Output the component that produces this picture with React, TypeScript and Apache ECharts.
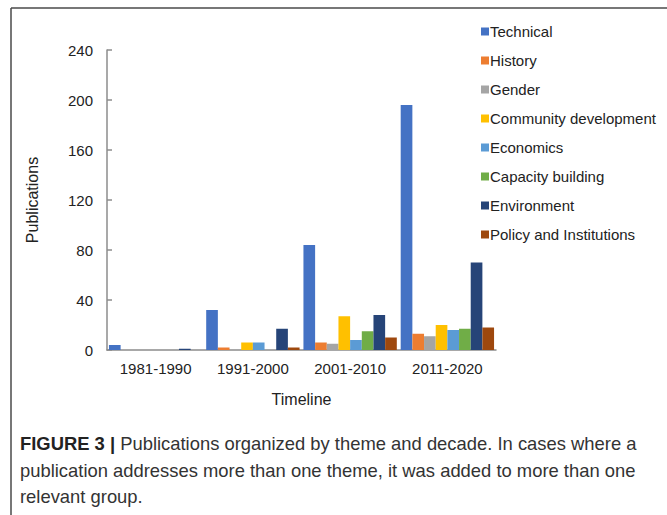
import React, { useEffect, useRef } from "react";
import * as echarts from "echarts";

const categories = ["1981-1990", "1991-2000", "2001-2010", "2011-2020"];
const seriesNames = [
  "Technical",
  "History",
  "Gender",
  "Community development",
  "Economics",
  "Capacity building",
  "Environment",
  "Policy and Institutions",
];
const technical = [4, 32, 84, 196];
const history = [0, 2, 6, 13];
const gender = [0, 0, 5, 11];
const communityDevelopment = [0, 6, 27, 20];
const economics = [0, 6, 8, 16];
const capacityBuilding = [0, 0, 15, 17];
const environment = [1, 17, 28, 70];
const policyInstitutions = [0, 2, 10, 18];
const seriesValues = [
  technical,
  history,
  gender,
  communityDevelopment,
  economics,
  capacityBuilding,
  environment,
  policyInstitutions,
];
const colors = ["#4472C4", "#ED7D31", "#A5A5A5", "#FFC000", "#5B9BD5", "#70AD47", "#264478", "#9E480E"];
const yTicks = [0, 40, 80, 120, 160, 200, 240];
const captionLines = [
  "Publications organized by theme and decade. In cases where a",
  "publication addresses more than one theme, it was added to more than one",
  "relevant group.",
];

export default function App() {
  const ref = useRef<HTMLDivElement>(null);
  useEffect(() => {
    if (!ref.current) return;
    const chart = echarts.init(ref.current, undefined, { renderer: "svg" });
    const font = "'Liberation Sans', Arial, sans-serif";
    chart.setOption({
      animation: false,
      textStyle: { fontFamily: font },
      legend: {
        orient: "vertical",
        left: 476,
        top: 19,
        itemWidth: 8,
        itemHeight: 8,
        itemGap: 14,
        icon: "rect",
        textStyle: { fontSize: 15, color: "#222", fontFamily: font, padding: [0, 0, 0, -4] },
        data: seriesNames,
      },
      grid: { left: 107, right: 171, top: 50, bottom: 165 },
      xAxis: {
        type: "category",
        data: categories,
        axisLine: { lineStyle: { color: "#8c8c8c", width: 1.5 } },
        axisTick: { show: false },
        axisLabel: { fontSize: 15, color: "#222", margin: 11, fontFamily: font },
        name: "Timeline",
        nameLocation: "middle",
        nameGap: 41,
        nameTextStyle: { fontSize: 16, color: "#222", fontFamily: font },
      },
      yAxis: {
        type: "value",
        min: yTicks[0],
        max: yTicks[yTicks.length - 1],
        interval: 40,
        splitLine: { show: false },
        axisLine: { show: true, lineStyle: { color: "#8c8c8c", width: 1.5 } },
        axisTick: { show: true, inside: true, length: 5, lineStyle: { color: "#8c8c8c", width: 1.5 } },
        axisLabel: { fontSize: 15, color: "#222", margin: 14, fontFamily: font },
        name: "Publications",
        nameLocation: "middle",
        nameGap: 67,
        nameTextStyle: { fontSize: 16, color: "#222", fontFamily: font },
      },
      series: seriesNames.map((name, i) => ({
        name,
        type: "bar",
        data: seriesValues[i],
        barGap: "0%",
        barCategoryGap: "4%",
        itemStyle: { color: colors[i] },
      })),
      graphic: [
        { type: "line", shape: { x1: 11, y1: 8, x2: 667, y2: 8 }, style: { stroke: "#4a4a4a", lineWidth: 1.5 } },
        { type: "line", shape: { x1: 11, y1: 8, x2: 11, y2: 515 }, style: { stroke: "#4a4a4a", lineWidth: 1.5 } },
        {
          type: "text",
          left: 20,
          top: 434,
          style: {
            text: "{b|FIGURE 3 |} " + captionLines[0],
            fontSize: 18.4,
            fill: "#333",
            fontFamily: font,
            rich: { b: { fontWeight: "bold", fontSize: 18.4, fill: "#222", fontFamily: font } },
          },
        },
        {
          type: "text",
          left: 20,
          top: 461,
          style: { text: captionLines[1], fontSize: 18.4, fill: "#333", fontFamily: font },
        },
        {
          type: "text",
          left: 20,
          top: 487,
          style: { text: captionLines[2], fontSize: 18.4, fill: "#333", fontFamily: font },
        },
      ],
    });
    return () => chart.dispose();
  }, []);
  return (
    <div
      ref={ref}
      style={{ position: "absolute", left: 0, top: 0, width: 667, height: 515, background: "#fff" }}
    />
  );
}
